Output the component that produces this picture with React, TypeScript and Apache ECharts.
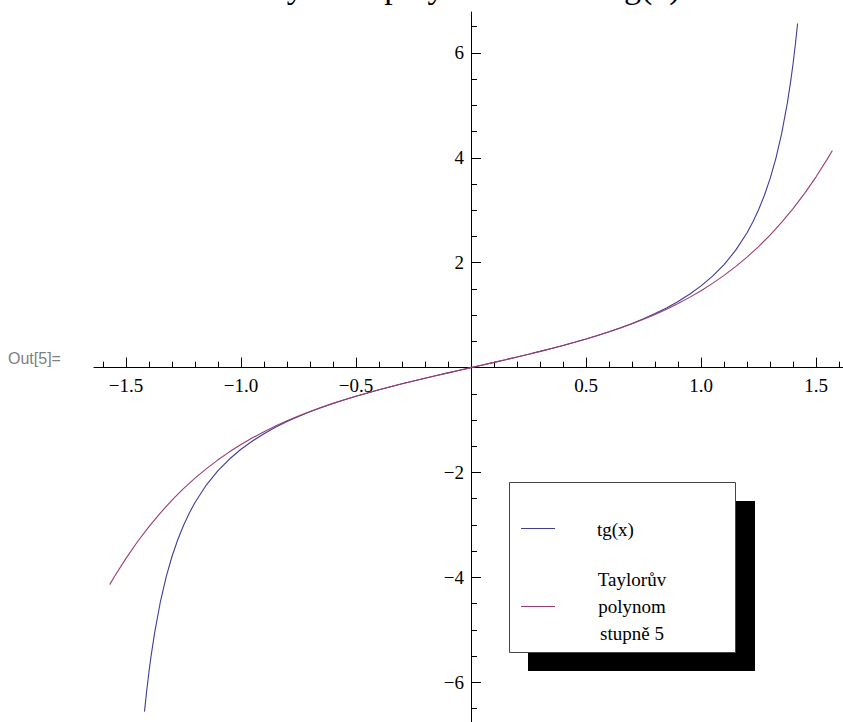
import React, { useEffect, useRef } from "react";
import * as echarts from "echarts";

const titleText = "Taylorův polynom funkce tg(x)";
const outLabel = "Out[5]=";
const legendNames = ["tg(x)", "Taylorův\npolynom\nstupně 5"];

const tanX = [
  -1.4196, -1.41, -1.4, -1.39, -1.375, -1.35, -1.325, -1.3, -1.275, -1.25, -1.225, -1.2,
  -1.15, -1.1, -1.05, -1.0, -0.95, -0.9, -0.85, -0.8, -0.75, -0.7, -0.65, -0.6, -0.55,
  -0.5, -0.45, -0.4, -0.35, -0.3, -0.25, -0.2, -0.15, -0.1, -0.05, 0,
  0.05, 0.1, 0.15, 0.2, 0.25, 0.3, 0.35, 0.4, 0.45, 0.5, 0.55, 0.6, 0.65, 0.7, 0.75,
  0.8, 0.85, 0.9, 0.95, 1.0, 1.05, 1.1, 1.15, 1.2, 1.225, 1.25, 1.275, 1.3, 1.325,
  1.35, 1.375, 1.39, 1.4, 1.41, 1.4196,
];
const tanY = [
  -6.56, -6.1654, -5.7979, -5.471, -5.042, -4.4552, -3.986, -3.6021, -3.2815, -3.0096,
  -2.7756, -2.5722, -2.2345, -1.9648, -1.7433, -1.5574, -1.3984, -1.2602, -1.1383,
  -1.0296, -0.9316, -0.8423, -0.7602, -0.6841, -0.6131, -0.5463, -0.4831, -0.4228,
  -0.365, -0.3093, -0.2553, -0.2027, -0.1511, -0.1003, -0.05, 0,
  0.05, 0.1003, 0.1511, 0.2027, 0.2553, 0.3093, 0.365, 0.4228, 0.4831, 0.5463, 0.6131,
  0.6841, 0.7602, 0.8423, 0.9316, 1.0296, 1.1383, 1.2602, 1.3984, 1.5574, 1.7433,
  1.9648, 2.2345, 2.5722, 2.7756, 3.0096, 3.2815, 3.6021, 3.986, 4.4552, 5.042, 5.471,
  5.7979, 6.1654, 6.56,
];

const taylorX = [
  -1.5708, -1.55, -1.5, -1.45, -1.4, -1.35, -1.3, -1.25, -1.2, -1.15, -1.1, -1.05, -1.0,
  -0.95, -0.9, -0.85, -0.8, -0.75, -0.7, -0.65, -0.6, -0.55, -0.5, -0.45, -0.4, -0.35,
  -0.3, -0.25, -0.2, -0.15, -0.1, -0.05, 0,
  0.05, 0.1, 0.15, 0.2, 0.25, 0.3, 0.35, 0.4, 0.45, 0.5, 0.55, 0.6, 0.65, 0.7, 0.75, 0.8,
  0.85, 0.9, 0.95, 1.0, 1.05, 1.1, 1.15, 1.2, 1.25, 1.3, 1.35, 1.4, 1.45, 1.5, 1.55, 1.5708,
];
const taylorY = [
  -4.1379, -3.9842, -3.6375, -3.3208, -3.0318, -2.768, -2.5273, -2.3079, -2.1078,
  -1.9252, -1.7584, -1.6061, -1.4667, -1.339, -1.2217, -1.1139, -1.0144, -0.9223,
  -0.8367, -0.757, -0.6824, -0.6122, -0.5458, -0.4828, -0.4227, -0.365, -0.3093,
  -0.2553, -0.2027, -0.1511, -0.1003, -0.05, 0,
  0.05, 0.1003, 0.1511, 0.2027, 0.2553, 0.3093, 0.365, 0.4227, 0.4828, 0.5458, 0.6122,
  0.6824, 0.757, 0.8367, 0.9223, 1.0144, 1.1139, 1.2217, 1.339, 1.4667, 1.6061, 1.7584,
  1.9252, 2.1078, 2.3079, 2.5273, 2.768, 3.0318, 3.3208, 3.6375, 3.9842, 4.1379,
];

const xMajorTicks = [-1.5, -1.0, -0.5, 0, 0.5, 1.0, 1.5];
const xLabels = [-1.5, -1.0, -0.5, 0.5, 1.0, 1.5];
const xMinorTicks = [
  -1.6, -1.4, -1.3, -1.2, -1.1, -0.9, -0.8, -0.7, -0.6, -0.4, -0.3, -0.2, -0.1,
  0.1, 0.2, 0.3, 0.4, 0.6, 0.7, 0.8, 0.9, 1.1, 1.2, 1.3, 1.4, 1.6,
];
const yMajorTicks = [-6, -4, -2, 0, 2, 4, 6];
const yLabels = [-6, -4, -2, 2, 4, 6];
const yMinorTicks = [
  -6.5, -5.5, -5, -4.5, -3.5, -3, -2.5, -1.5, -1, -0.5,
  0.5, 1, 1.5, 2.5, 3, 3.5, 4.5, 5, 5.5, 6.5,
];

const BLUE = "#3f3d99";
const RED = "#993d71";
const SERIF = "'Liberation Serif', 'Times New Roman', serif";

const X_MIN = -1.639;
const X_MAX = 1.617;
const Y_MIN = -6.78;
const Y_MAX = 6.78;
const GRID = { left: 94, top: 12, width: 749, height: 711.2 };

const fmt = (d: number) => (v: number) => {
  const s = v.toFixed(d);
  return s.startsWith("-") ? "\u2212" + s.slice(1) : s;
};

export default function App() {
  const ref = useRef<HTMLDivElement>(null);
  useEffect(() => {
    if (!ref.current) return;
    const chart = echarts.init(ref.current, undefined, { renderer: "svg" });
    const axisLine = { show: true, onZero: true, lineStyle: { color: "#000", width: 1 } };
    const labelStyle = { color: "#000", fontFamily: SERIF, fontSize: 19 };
    // pixel distance from grid edges to the zero lines
    const zeroXFromLeft = ((0 - X_MIN) / (X_MAX - X_MIN)) * GRID.width;
    const zeroYFromBottom = ((0 - Y_MIN) / (Y_MAX - Y_MIN)) * GRID.height;
    chart.setOption({
      animation: false,
      backgroundColor: "#fff",
      grid: { ...GRID, containLabel: false, outerBoundsMode: "none" },
      xAxis: [
        {
          type: "value", min: X_MIN, max: X_MAX, position: "bottom",
          axisLine,
          axisTick: { show: true, inside: true, length: 10, customValues: xMajorTicks, lineStyle: { color: "#000" } },
          axisLabel: { show: false },
          splitLine: { show: false },
        },
        {
          type: "value", min: X_MIN, max: X_MAX, position: "bottom",
          axisLine: { show: false, onZero: true },
          axisTick: { show: true, inside: true, length: 6, customValues: xMinorTicks, lineStyle: { color: "#000" } },
          axisLabel: { show: false },
          splitLine: { show: false },
        },
        {
          type: "value", min: X_MIN, max: X_MAX, position: "bottom", offset: -zeroYFromBottom,
          axisLine: { show: false, onZero: false },
          axisTick: { show: false },
          axisLabel: { show: true, customValues: xLabels, formatter: fmt(1), margin: 8, ...labelStyle },
          splitLine: { show: false },
        },
      ],
      yAxis: [
        {
          type: "value", min: Y_MIN, max: Y_MAX, position: "left",
          axisLine,
          axisTick: { show: true, inside: true, length: 10, customValues: yMajorTicks, lineStyle: { color: "#000" } },
          axisLabel: { show: false },
          splitLine: { show: false },
        },
        {
          type: "value", min: Y_MIN, max: Y_MAX, position: "left",
          axisLine: { show: false, onZero: true },
          axisTick: { show: true, inside: true, length: 6, customValues: yMinorTicks, lineStyle: { color: "#000" } },
          axisLabel: { show: false },
          splitLine: { show: false },
        },
        {
          type: "value", min: Y_MIN, max: Y_MAX, position: "left", offset: -zeroXFromLeft,
          axisLine: { show: false, onZero: false },
          axisTick: { show: false },
          axisLabel: { show: true, customValues: yLabels, formatter: fmt(0), margin: 7, ...labelStyle },
          splitLine: { show: false },
        },
      ],
      series: [
        {
          name: legendNames[0], type: "line", xAxisIndex: 0, yAxisIndex: 0,
          data: tanX.map((x, i) => [x, tanY[i]]),
          showSymbol: false, smooth: false, lineStyle: { color: BLUE, width: 1.1 }, itemStyle: { color: BLUE },
        },
        {
          name: legendNames[1], type: "line", xAxisIndex: 0, yAxisIndex: 0,
          data: taylorX.map((x, i) => [x, taylorY[i]]),
          showSymbol: false, smooth: false, lineStyle: { color: RED, width: 1.1 }, itemStyle: { color: RED },
        },
      ],
      graphic: [
        {
          type: "text", x: 467, y: -14,
          style: { text: titleText, font: `34px ${SERIF}`, fill: "#000", align: "center", verticalAlign: "middle" },
        },
        {
          type: "text", x: 8, y: 358.5,
          style: { text: outLabel, font: "16px 'Liberation Sans', Arial, sans-serif", fill: "#808080", align: "left", verticalAlign: "middle" },
        },
        { type: "rect", shape: { x: 528, y: 501, width: 227, height: 170 }, style: { fill: "#000" } },
        { type: "rect", shape: { x: 509.5, y: 482.5, width: 226, height: 170 }, style: { fill: "#fff", stroke: "#444", lineWidth: 1 } },
        { type: "line", shape: { x1: 521, y1: 528.5, x2: 555, y2: 528.5 }, style: { stroke: BLUE, lineWidth: 1.1 } },
        { type: "line", shape: { x1: 521, y1: 606.5, x2: 555, y2: 606.5 }, style: { stroke: RED, lineWidth: 1.1 } },
        {
          type: "text", x: 597, y: 529,
          style: { text: legendNames[0], font: `19px ${SERIF}`, fill: "#000", align: "left", verticalAlign: "middle" },
        },
        {
          type: "text", x: 632, y: 606,
          style: { text: legendNames[1], font: `19px ${SERIF}`, fill: "#000", align: "center", verticalAlign: "middle", lineHeight: 27 },
        },
      ],
    });
    return () => chart.dispose();
  }, []);
  return <div ref={ref} style={{ position: "fixed", left: 0, top: 0, width: 843, height: 722 }} />;
}
